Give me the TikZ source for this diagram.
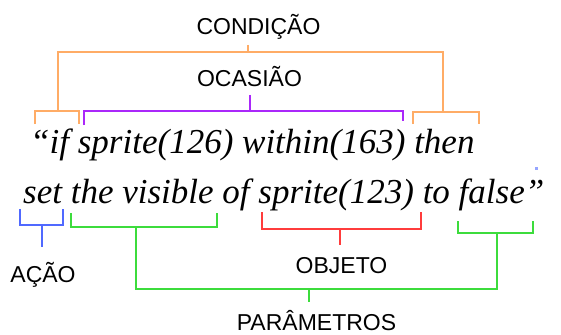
\documentclass[tikz,border=0pt]{standalone}
\usepackage{fontspec}
\setmainfont{Liberation Serif}
\setsansfont{Liberation Sans}
\definecolor{brOrange}{RGB}{255,172,102}
\definecolor{brPurple}{RGB}{170,40,250}
\definecolor{brBlue}{RGB}{80,105,255}
\definecolor{brGreen}{RGB}{60,220,60}
\definecolor{brRed}{RGB}{255,60,60}
\begin{document}
\begin{tikzpicture}[x=1pt,y=-1pt,
  lbl/.style={font=\sffamily\fontsize{23}{23}\selectfont, inner sep=0pt, anchor=base},
  code/.style={font=\itshape\fontsize{35}{35}\selectfont, inner sep=0pt, anchor=base west},
  br/.style={line width=1.6pt, line join=miter}]
\useasboundingbox[fill=white] (0,0) rectangle (561,334);

% labels
\node[lbl] (cond) at (258.5,35) {CONDIÇÃO};
\node[lbl] (ocas) at (249.5,87) {OCASIÃO};
\node[lbl] (acao) at (43,282) {AÇÃO};
\node[lbl] (obj)  at (341.5,273) {OBJETO};
\node[lbl] (par)  at (316.5,330) {PARÂMETROS};

% code lines
\node[code] (l1) at (30,153) {“if sprite(126) within(163) then};
\node[code] (l2) at (23,203) {set the visible of sprite(123) to false”};

% coordinates
\coordinate (cTop) at (248,45);
\coordinate (cMid) at (248,52);
\coordinate (cL) at (58,52);
\coordinate (cR) at (443,52);
\coordinate (oTop) at (250,95);
\coordinate (aTop) at (42,247);
\coordinate (rTop) at (340,245);
\coordinate (pTop) at (309,302);

% CONDIÇÃO
\draw[br,brOrange] (cTop) -- (cMid);
\draw[br,brOrange] (58,111) -- (cL) -- (cR) -- (443,112);
\draw[br,brOrange] (35,124) -- (35,111) -- (79,111) -- (79,124);
\draw[br,brOrange] (413,124) -- (413,112) -- (479,112) -- (479,124);

% OCASIÃO
\draw[br,brPurple] (oTop) -- (250,111);
\draw[br,brPurple] (84,125) -- (84,111) -- (403,111) -- (403,121);

% AÇÃO
\draw[br,brBlue] (20,209) -- (20,225) -- (63,225) -- (63,209);
\draw[br,brBlue] (42,225) -- (aTop);

% OBJETO
\draw[br,brRed] (262,212) -- (262,229) -- (421,229) -- (421,212);
\draw[br,brRed] (340,229) -- (rTop);

% PARÂMETROS
\draw[br,brGreen] (71,213) -- (71,227) -- (217,227) -- (217,213);
\draw[br,brGreen] (458,221) -- (458,233) -- (533,233) -- (533,221);
\draw[br,brGreen] (136,227) -- (136,289) -- (497,289) -- (497,233);
\draw[br,brGreen] (309,289) -- (pTop);

% stray dot
\fill[brBlue!60] (534.5,166.5) rectangle (537.5,169.5);
\end{tikzpicture}
\end{document}
